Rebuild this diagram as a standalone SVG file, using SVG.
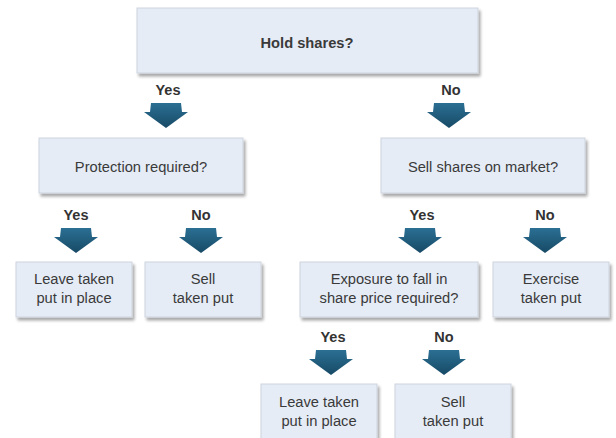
<svg xmlns="http://www.w3.org/2000/svg" width="616" height="438" viewBox="0 0 616 438">
<defs>
<filter id="sh" x="-10%" y="-10%" width="130%" height="140%">
<feGaussianBlur in="SourceAlpha" stdDeviation="1.5"/>
<feOffset dx="2" dy="2.5" result="b"/>
<feComponentTransfer><feFuncA type="linear" slope="0.35"/></feComponentTransfer>
<feMerge><feMergeNode/><feMergeNode in="SourceGraphic"/></feMerge>
</filter>
<linearGradient id="ag" x1="0" y1="0" x2="0" y2="1">
<stop offset="0" stop-color="#2b6f93"/>
<stop offset="1" stop-color="#174a66"/>
</linearGradient>
<path id="arr" d="M-15,0 L15,0 L16,9 L22,9 L0,25 L-22,9 L-16,9 Z" fill="url(#ag)"/>
</defs>
<style>
.box{fill:#e5ecf6;stroke:#cdd4de;stroke-width:1;filter:url(#sh)}
.t{font-family:"Liberation Sans",Arial,sans-serif;font-size:14.7px;fill:#3a3a3a;text-anchor:middle}
.b{font-weight:bold}
.l{font-family:"Liberation Sans",Arial,sans-serif;font-size:14.5px;font-weight:bold;fill:#333;text-anchor:middle}
</style>
<rect width="616" height="438" fill="#ffffff"/>
<g id="connectors">
<text class="l" x="168" y="95">Yes</text><use href="#arr" x="166" y="103"/>
<text class="l" x="451" y="95">No</text><use href="#arr" x="449" y="103"/>
<text class="l" x="76" y="220">Yes</text><use href="#arr" x="76" y="228"/>
<text class="l" x="201" y="220">No</text><use href="#arr" x="201" y="228"/>
<text class="l" x="422" y="220">Yes</text><use href="#arr" x="420" y="228"/>
<text class="l" x="545" y="220">No</text><use href="#arr" x="545" y="228"/>
<text class="l" x="333" y="342">Yes</text><use href="#arr" x="331" y="350"/>
<text class="l" x="444" y="342">No</text><use href="#arr" x="444" y="350"/>
</g>
<g id="n1"><rect class="box" x="137" y="8" width="341" height="65"/><text class="t b" x="307" y="48">Hold shares?</text></g>
<g id="n2"><rect class="box" x="39" y="138" width="204" height="55"/><text class="t" x="141" y="172">Protection required?</text></g>
<g id="n3"><rect class="box" x="381" y="138" width="204" height="55"/><text class="t" x="483" y="172">Sell shares on market?</text></g>
<g id="n4"><rect class="box" x="16" y="262" width="116" height="55"/><text class="t" x="74" y="284">Leave taken</text><text class="t" x="74" y="303">put in place</text></g>
<g id="n5"><rect class="box" x="145" y="262" width="116" height="55"/><text class="t" x="203" y="284">Sell</text><text class="t" x="203" y="303">taken put</text></g>
<g id="n6"><rect class="box" x="300" y="262" width="178" height="55"/><text class="t" x="389" y="284">Exposure to fall in</text><text class="t" x="389" y="303">share price required?</text></g>
<g id="n7"><rect class="box" x="493" y="262" width="116" height="55"/><text class="t" x="551" y="284">Exercise</text><text class="t" x="551" y="303">taken put</text></g>
<g id="n8"><rect class="box" x="261" y="384" width="116" height="60"/><text class="t" x="319" y="407">Leave taken</text><text class="t" x="319" y="426">put in place</text></g>
<g id="n9"><rect class="box" x="395" y="384" width="116" height="60"/><text class="t" x="453" y="407">Sell</text><text class="t" x="453" y="426">taken put</text></g>
</svg>
